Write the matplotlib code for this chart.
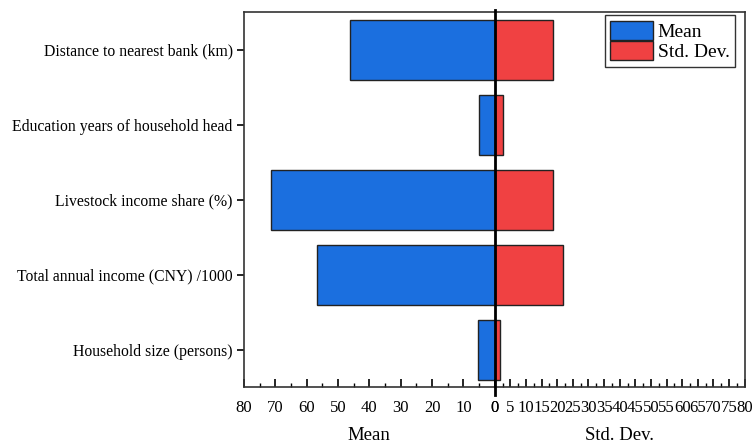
import matplotlib
matplotlib.use('Agg')
import matplotlib.pyplot as plt
from matplotlib.ticker import MultipleLocator

plt.rcParams['font.family'] = ['Liberation Serif', 'DejaVu Serif']

# data (bottom to top)
categories = ['Household size (persons)', 'Total annual income (CNY) /1000',
              'Livestock income share (%)', 'Education years of household head',
              'Distance to nearest bank (km)']
mean_vals = [5.4, 56.6, 71.3, 4.9, 46.1]
std_vals = [1.6, 21.7, 18.6, 2.7, 18.8]

blue = '#1b6fdf'
red = '#f04142'
edge = '#222222'

fig = plt.figure(figsize=(7.53, 4.46), dpi=100)
axL = fig.add_axes([0.324, 0.132, 0.333, 0.841])
axR = fig.add_axes([0.657, 0.132, 0.332, 0.841])

y = range(len(categories))
bL = axL.barh(y, mean_vals, height=0.8, color=blue, edgecolor=edge, linewidth=1, label='Mean')
bR = axR.barh(y, std_vals, height=0.8, color=red, edgecolor=edge, linewidth=1, label='Std. Dev.')

axL.set_xlim(80, 0)
axR.set_xlim(0, 80)
for ax in (axL, axR):
    ax.set_ylim(-0.5, 4.5)
    for s in ax.spines.values():
        s.set_color('#333333')
        s.set_linewidth(1.2)

axL.spines['right'].set_visible(False)
axR.spines['left'].set_visible(False)

axL.set_yticks(list(y))
axL.set_yticklabels(categories, fontsize=11.3)
axL.tick_params(axis='y', direction='out', length=5, width=1.2, pad=3)
axR.set_yticks([])

axL.xaxis.set_major_locator(MultipleLocator(10))
axL.xaxis.set_minor_locator(MultipleLocator(5))
axR.xaxis.set_major_locator(MultipleLocator(5))
axR.xaxis.set_minor_locator(MultipleLocator(2.5))
for ax in (axL, axR):
    ax.tick_params(axis='x', which='major', direction='in', length=6, width=1.2, labelsize=12, pad=9)
    ax.tick_params(axis='x', which='minor', direction='in', length=3, width=1.0)

axL.set_xlabel('Mean', fontsize=13.5, labelpad=8.5)
axR.set_xlabel('Std. Dev.', fontsize=13.5, labelpad=8.5)

# center line at zero
axR.axvline(0, ymin=-0.02, ymax=1.005, color='black', linewidth=2, clip_on=False, zorder=5)

leg = axR.legend(handles=[bL, bR], loc='upper right', bbox_to_anchor=(0.976, 0.966),
                 bbox_transform=fig.transFigure, fontsize=14, frameon=True, fancybox=False,
                 handlelength=2.2, handleheight=1.15, labelspacing=0.0, handletextpad=0.25,
                 borderpad=0.28, borderaxespad=0)
leg.get_frame().set_edgecolor('black')
leg.get_frame().set_linewidth(1)

fig.savefig('out.png', dpi=100)
